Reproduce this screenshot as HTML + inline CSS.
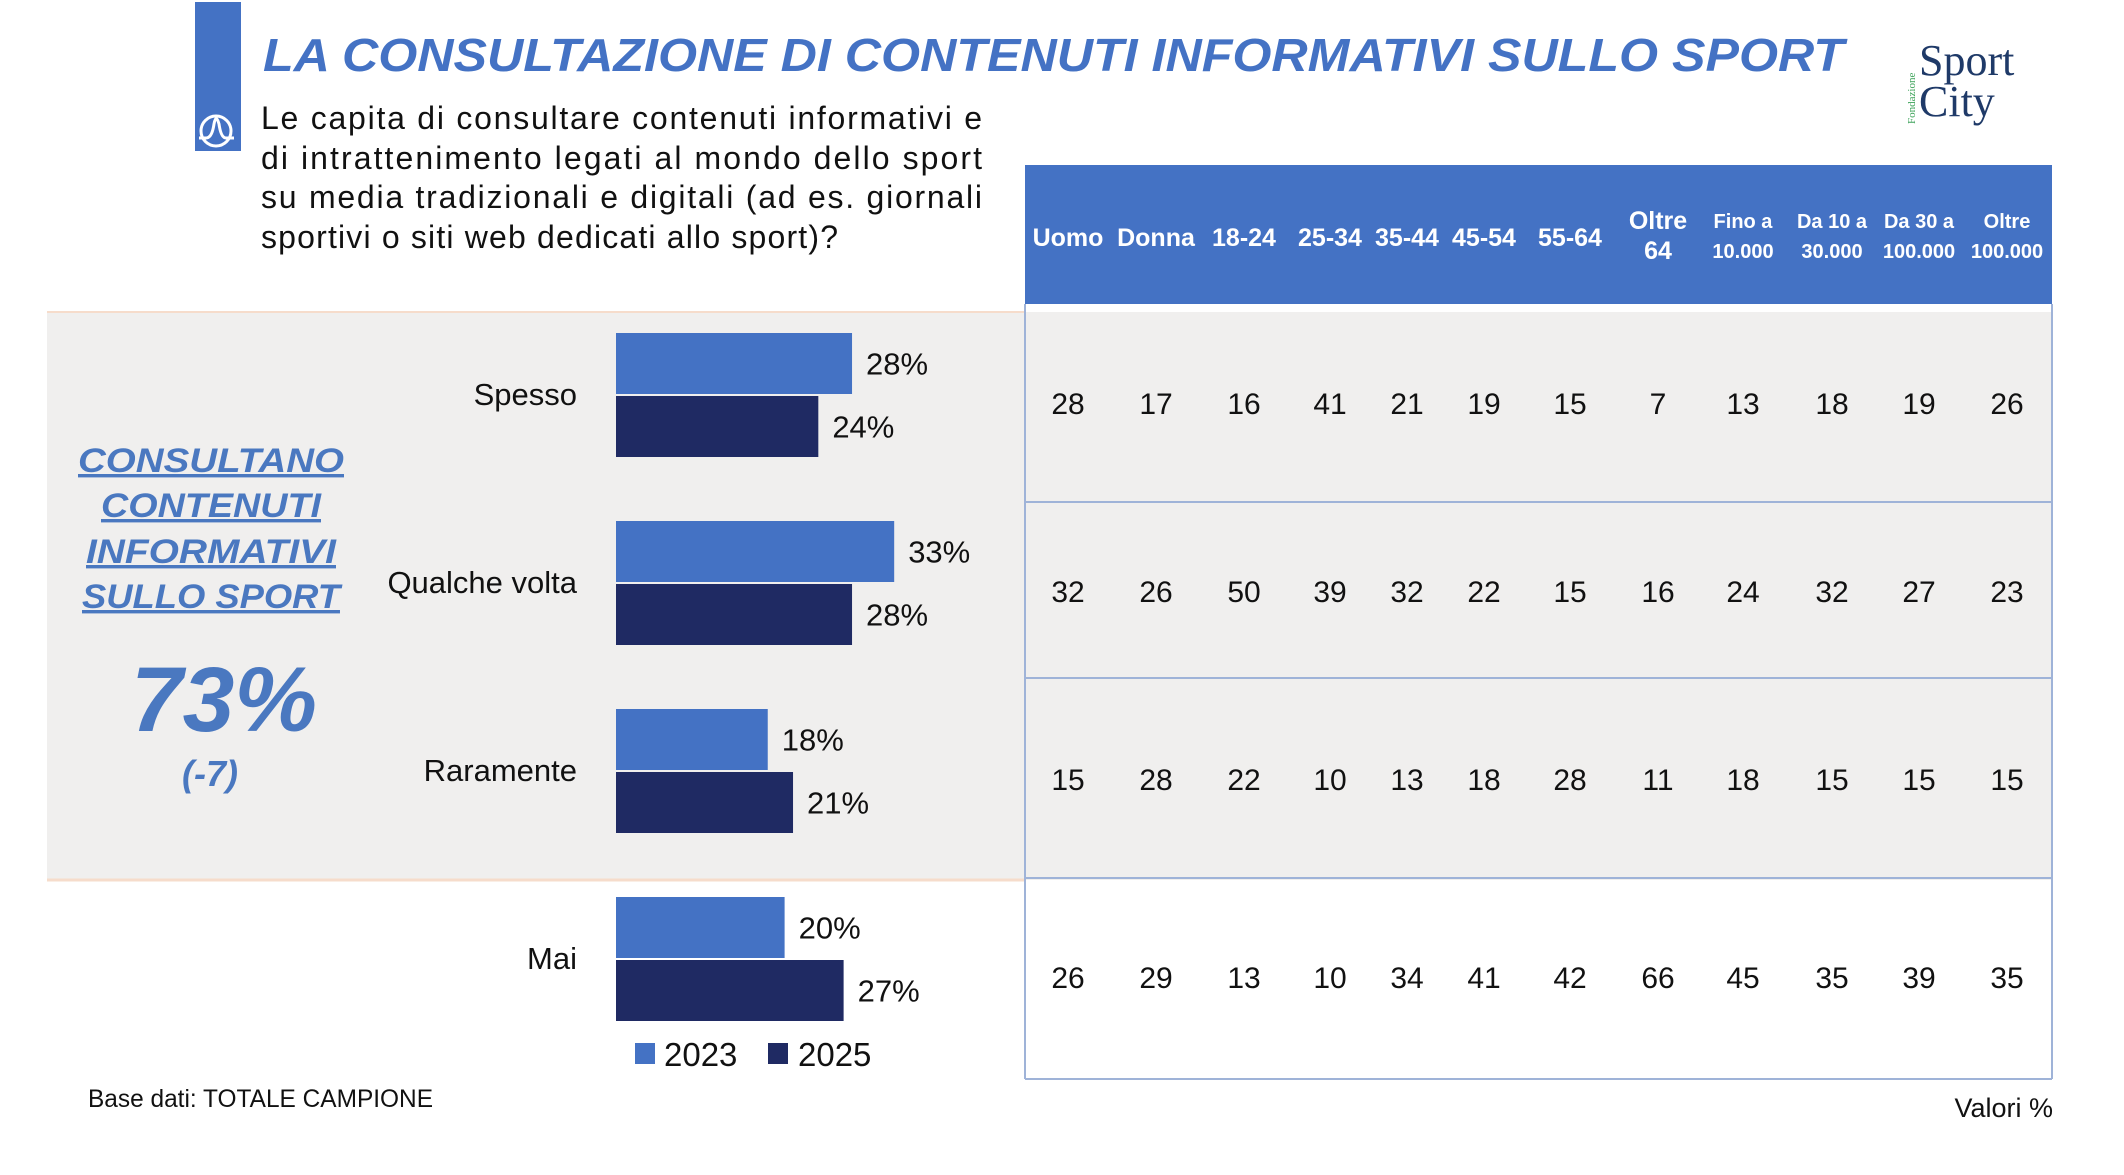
<!DOCTYPE html>
<html><head><meta charset="utf-8"><style>
html,body{margin:0;padding:0;background:#fff;}
svg{display:block;}
</style></head><body>
<svg id="chart" width="2124" height="1175" viewBox="0 0 2124 1175" xmlns="http://www.w3.org/2000/svg" font-family="Liberation Sans, sans-serif">
  <rect x="47" y="312" width="2005" height="568" fill="#f0efee"/>
  <line x1="47" y1="312" x2="1025" y2="312" stroke="#f6dccb" stroke-width="2"/>
  <line x1="47" y1="880" x2="1025" y2="880" stroke="#f6dccb" stroke-width="3"/>
  <g>
    <rect x="195" y="2" width="46" height="149" fill="#4472c4"/>
    <circle cx="216" cy="131" r="15" fill="none" stroke="#fff" stroke-width="3"/>
    <path d="M199 138 L206 138 Q212 138 214 124 Q216 113 219 124 Q221 138 226 138 L234 138" fill="none" stroke="#fff" stroke-width="3"/>
  </g>
  <text x="263" y="71" font-size="46" font-weight="bold" font-style="italic" fill="#4472c4" textLength="1581" lengthAdjust="spacingAndGlyphs">LA CONSULTAZIONE DI CONTENUTI INFORMATIVI SULLO SPORT</text>
  <g font-size="32" fill="#111">
    <text x="261" y="129" textLength="721" lengthAdjust="spacing">Le capita di consultare contenuti informativi e</text>
    <text x="261" y="169" textLength="721" lengthAdjust="spacing">di intrattenimento legati al mondo dello sport</text>
    <text x="261" y="208" textLength="721" lengthAdjust="spacing">su media tradizionali e digitali (ad es. giornali</text>
    <text x="261" y="248" textLength="577" lengthAdjust="spacing">sportivi o siti web dedicati allo sport)?</text>
  </g>
  <g>
    <text x="1919" y="75" style="font-family:'Liberation Serif',serif" font-size="44" fill="#1f3a68">Sport</text>
    <text x="1919" y="116" style="font-family:'Liberation Serif',serif" font-size="44" fill="#1f3a68">City</text>
    <text transform="translate(1915,124) rotate(-90)" style="font-family:'Liberation Serif',serif" font-size="11" fill="#3da35a">Fondazione</text>
  </g>
  <g fill="#4a78c0" font-weight="bold" font-style="italic" text-anchor="middle">
    <text x="211" y="472" font-size="34" text-decoration="underline" textLength="266" lengthAdjust="spacingAndGlyphs">CONSULTANO</text>
    <text x="211" y="517" font-size="34" text-decoration="underline" textLength="220" lengthAdjust="spacingAndGlyphs">CONTENUTI</text>
    <text x="211" y="563" font-size="34" text-decoration="underline" textLength="250" lengthAdjust="spacingAndGlyphs">INFORMATIVI</text>
    <text x="211" y="608" font-size="34" text-decoration="underline" textLength="258" lengthAdjust="spacingAndGlyphs">SULLO SPORT</text>
    <text x="224" y="731" font-size="92" textLength="186" lengthAdjust="spacingAndGlyphs">73%</text>
    <text x="210" y="786" font-size="36">(-7)</text>
  </g>
  <rect x="1025" y="165" width="1027" height="139" fill="#4472c4"/>
  <g id="bars"></g>
  <g id="table"></g>
  <g>
    <rect x="635" y="1043" width="20" height="21" fill="#4472c4"/>
    <text x="664" y="1066" font-size="33" fill="#111">2023</text>
    <rect x="768" y="1043" width="20" height="21" fill="#1f2a63"/>
    <text x="798" y="1066" font-size="33" fill="#111">2025</text>
  </g>
  <text x="88" y="1107" font-size="25" fill="#111" textLength="345" lengthAdjust="spacingAndGlyphs">Base dati: TOTALE CAMPIONE</text>
  <text x="2076" y="1131" font-size="27" fill="#111" text-anchor="end" transform="translate(-23,-14)">Valori %</text>
</svg>
<script>
const categories = ["Spesso", "Qualche volta", "Raramente", "Mai"];
const values2023 = [28, 33, 18, 20];
const values2025 = [24, 28, 21, 27];
const columns = [["Uomo"], ["Donna"], ["18-24"], ["25-34"], ["35-44"], ["45-54"], ["55-64"], ["Oltre", "64"], ["Fino a", "10.000"], ["Da 10 a", "30.000"], ["Da 30 a", "100.000"], ["Oltre", "100.000"]];
const rowSpesso = [28, 17, 16, 41, 21, 19, 15, 7, 13, 18, 19, 26];
const rowQualche = [32, 26, 50, 39, 32, 22, 15, 16, 24, 32, 27, 23];
const rowRaramente = [15, 28, 22, 10, 13, 18, 28, 11, 18, 15, 15, 15];
const rowMai = [26, 29, 13, 10, 34, 41, 42, 66, 45, 35, 39, 35];

const NS = "http://www.w3.org/2000/svg";
function mk(tag, attrs, parent) {
  const e = document.createElementNS(NS, tag);
  for (const k in attrs) e.setAttribute(k, attrs[k]);
  parent.appendChild(e);
  return e;
}
const x0 = 616, pxPerPct = 8.43;
const xScale = v => v * pxPerPct;
const groupTop = i => 333 + i * 188;
const barH = 61;
const barsG = document.getElementById("bars");
categories.forEach((c, i) => {
  const top = groupTop(i);
  const lab = mk("text", {x: 577, y: top + barH + 11, "font-size": 31, fill: "#111", "text-anchor": "end"}, barsG);
  lab.textContent = c;
  
  
  [[values2023[i], "#4472c4", top], [values2025[i], "#1f2a63", top + barH + 2]].forEach(([v, col, y], s) => {
    const r = mk("rect", {x: x0, y: y, width: xScale(v), height: barH, fill: col}, barsG);
    
    
    const t = mk("text", {x: x0 + xScale(v) + 14, y: y + barH / 2 + 11, "font-size": 31, fill: "#111"}, barsG);
    t.textContent = v + "%";
    
    
  });
});
const tbl = document.getElementById("table");
const colX = [1068, 1156, 1244, 1330, 1407, 1484, 1570, 1658, 1743, 1832, 1919, 2007];
columns.forEach((c, j) => {
  const small = j >= 8;
  const fs = small ? 20 : 25;
  if (c.length === 1) {
    const t = mk("text", {x: colX[j], y: 246, "font-size": fs, "font-weight": "bold", fill: "#fff", "text-anchor": "middle"}, tbl);
    t.textContent = c[0];
    
    
  } else {
    c.forEach((s, k) => {
      const t = mk("text", {x: colX[j], y: (small ? 228 : 229) + k * 30, "font-size": fs, "font-weight": "bold", fill: "#fff", "text-anchor": "middle"}, tbl);
      t.textContent = s;
      
      
    });
  }
});
const rows = [rowSpesso, rowQualche, rowRaramente, rowMai];
const rowCenter = [403, 591, 779, 977];
rows.forEach((r, i) => {
  r.forEach((v, j) => {
    const t = mk("text", {x: colX[j], y: rowCenter[i] + 11, "font-size": 30, fill: "#111", "text-anchor": "middle"}, tbl);
    t.textContent = v;
    
    
  });
});
[502, 678, 878, 1079].forEach(y => {
  const l = mk("line", {x1: 1025, y1: y, x2: 2052, y2: y, stroke: "#9fb3d8", "stroke-width": 2}, tbl);
  
  
});
[1025, 2052].forEach(x => {
  const l = mk("line", {x1: x, y1: 304, x2: x, y2: 1079, stroke: "#9fb3d8", "stroke-width": 2}, tbl);
  
  
});
</script>
</body></html>
